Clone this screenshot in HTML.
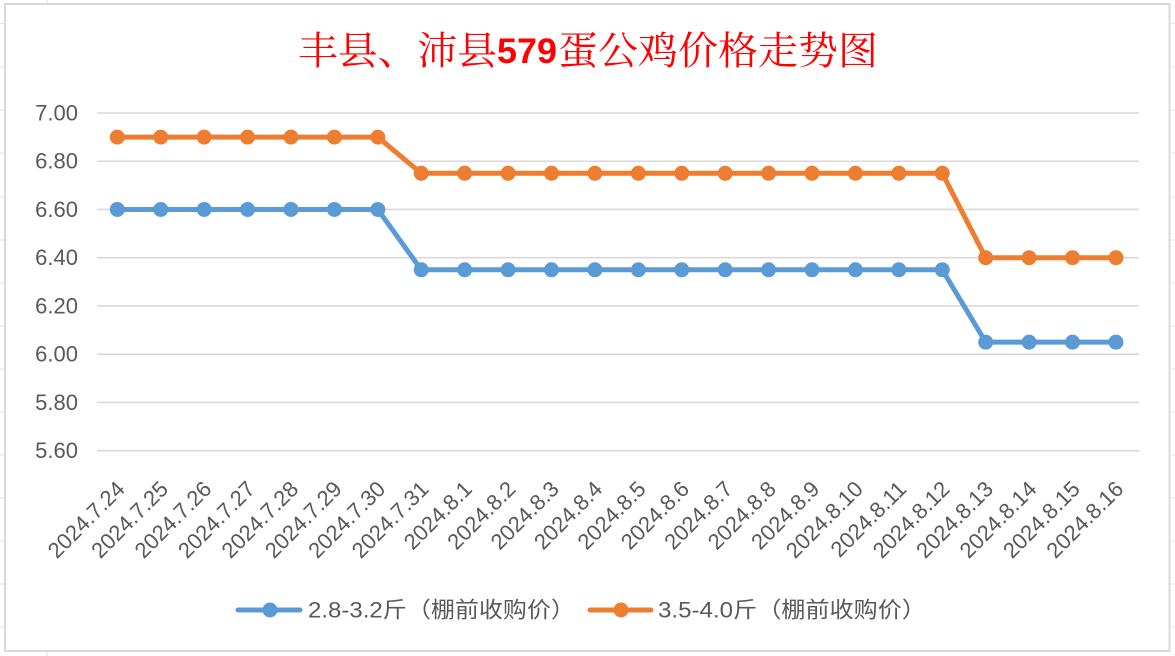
<!DOCTYPE html>
<html><head><meta charset="utf-8"><style>
html,body{margin:0;padding:0;background:#fff;}
svg{display:block;}
</style></head><body>
<svg width="1175" height="656" viewBox="0 0 1175 656" xmlns="http://www.w3.org/2000/svg">
<rect x="0" y="0" width="1175" height="656" fill="#fff"/>
<!-- faint excel cell grid outside chart -->
<g stroke="#E3E3E3" stroke-width="1">
<line x1="47" y1="0" x2="47" y2="4"/><line x1="47" y1="652" x2="47" y2="656"/>
<line x1="0" y1="23.5" x2="5" y2="23.5"/><line x1="0" y1="67" x2="5" y2="67"/><line x1="0" y1="110" x2="5" y2="110"/><line x1="0" y1="153" x2="5" y2="153"/><line x1="0" y1="197" x2="5" y2="197"/><line x1="0" y1="240" x2="5" y2="240"/><line x1="0" y1="283" x2="5" y2="283"/><line x1="0" y1="326" x2="5" y2="326"/><line x1="0" y1="369" x2="5" y2="369"/><line x1="0" y1="412" x2="5" y2="412"/><line x1="0" y1="455" x2="5" y2="455"/><line x1="0" y1="498" x2="5" y2="498"/><line x1="0" y1="541" x2="5" y2="541"/><line x1="0" y1="584" x2="5" y2="584"/><line x1="0" y1="627" x2="5" y2="627"/>
<line x1="1171" y1="23.5" x2="1175" y2="23.5"/><line x1="1171" y1="67" x2="1175" y2="67"/><line x1="1171" y1="110" x2="1175" y2="110"/><line x1="1171" y1="153" x2="1175" y2="153"/><line x1="1171" y1="197" x2="1175" y2="197"/><line x1="1171" y1="240" x2="1175" y2="240"/><line x1="1171" y1="283" x2="1175" y2="283"/><line x1="1171" y1="326" x2="1175" y2="326"/><line x1="1171" y1="369" x2="1175" y2="369"/><line x1="1171" y1="412" x2="1175" y2="412"/><line x1="1171" y1="455" x2="1175" y2="455"/><line x1="1171" y1="498" x2="1175" y2="498"/><line x1="1171" y1="541" x2="1175" y2="541"/><line x1="1171" y1="584" x2="1175" y2="584"/><line x1="1171" y1="627" x2="1175" y2="627"/>
</g>
<!-- chart border -->
<rect x="5" y="4" width="1164.5" height="647" fill="#fff" stroke="#D9D9D9" stroke-width="2"/>

<!-- title -->
<g fill="#FF0000">
<text x="298" y="48.5" dominant-baseline="central" font-family="'Noto Serif CJK SC','Liberation Serif',serif" font-size="39" textLength="199" lengthAdjust="spacingAndGlyphs">丰县、沛县</text>
<text x="497" y="63" font-family="'Liberation Sans',sans-serif" font-weight="bold" font-size="35" textLength="60" lengthAdjust="spacingAndGlyphs">579</text>
<text x="558" y="48.5" dominant-baseline="central" font-family="'Noto Serif CJK SC','Liberation Serif',serif" font-size="39" textLength="320" lengthAdjust="spacingAndGlyphs">蛋公鸡价格走势图</text>
</g>

<!-- gridlines -->
<g stroke="#D9D9D9" stroke-width="1.6">
<line x1="97" x2="1139" y1="113" y2="113"/>
<line x1="97" x2="1139" y1="161.24" y2="161.24"/>
<line x1="97" x2="1139" y1="209.48" y2="209.48"/>
<line x1="97" x2="1139" y1="257.72" y2="257.72"/>
<line x1="97" x2="1139" y1="305.96" y2="305.96"/>
<line x1="97" x2="1139" y1="354.2" y2="354.2"/>
<line x1="97" x2="1139" y1="402.44" y2="402.44"/>
<line x1="97" x2="1139" y1="450.68" y2="450.68"/>
</g>

<!-- y labels -->
<g fill="#595959" font-family="'Liberation Sans',sans-serif" font-size="22" text-anchor="end" dominant-baseline="central">
<text x="78" y="113">7.00</text>
<text x="78" y="161.24">6.80</text>
<text x="78" y="209.48">6.60</text>
<text x="78" y="257.72">6.40</text>
<text x="78" y="305.96">6.20</text>
<text x="78" y="354.2">6.00</text>
<text x="78" y="402.44">5.80</text>
<text x="78" y="450.68">5.60</text>
</g>

<!-- x labels -->
<g fill="#595959" font-family="'Liberation Sans',sans-serif" font-size="22" text-anchor="end" dominant-baseline="central" id="xl"></g>

<!-- series -->
<g id="series"></g>

<!-- legend -->
<line x1="238" y1="610" x2="300" y2="610" stroke="#5B9BD5" stroke-width="5" stroke-linecap="round"/>
<circle cx="270" cy="610" r="7.5" fill="#5B9BD5"/>
<text x="308" y="610" dominant-baseline="central" fill="#595959" font-family="'Liberation Sans','Noto Sans CJK SC',sans-serif" font-size="22" textLength="267" lengthAdjust="spacingAndGlyphs">2.8-3.2斤（棚前收购价）</text>
<line x1="590" y1="610" x2="651" y2="610" stroke="#ED7D31" stroke-width="5" stroke-linecap="round"/>
<circle cx="621" cy="610" r="7.5" fill="#ED7D31"/>
<text x="658" y="610" dominant-baseline="central" fill="#595959" font-family="'Liberation Sans','Noto Sans CJK SC',sans-serif" font-size="22" textLength="268" lengthAdjust="spacingAndGlyphs">3.5-4.0斤（棚前收购价）</text>

<script>
(function(){
var NS="http://www.w3.org/2000/svg";
var labels=["2024.7.24","2024.7.25","2024.7.26","2024.7.27","2024.7.28","2024.7.29","2024.7.30","2024.7.31","2024.8.1","2024.8.2","2024.8.3","2024.8.4","2024.8.5","2024.8.6","2024.8.7","2024.8.8","2024.8.9","2024.8.10","2024.8.11","2024.8.12","2024.8.13","2024.8.14","2024.8.15","2024.8.16"];
function X(i){return 117.3+i*43.42;}
function Y(v){return 113+(7-v)/0.2*48.24;}
var xl=document.getElementById("xl");
labels.forEach(function(s,i){
 var t=document.createElementNS(NS,"text");
 var x=X(i)+3.5,y=485;
 t.setAttribute("x",x);t.setAttribute("y",y);
 t.setAttribute("transform","rotate(-45 "+x+" "+y+")");
 t.textContent=s;xl.appendChild(t);
});
var blue=[],orange=[];
for(var i=0;i<24;i++){
 blue.push(i<7?6.60:(i<20?6.35:6.05));
 orange.push(i<7?6.90:(i<20?6.75:6.40));
}
var g=document.getElementById("series");
[[blue,"#5B9BD5"],[orange,"#ED7D31"]].forEach(function(s){
 var pts=s[0].map(function(v,i){return X(i).toFixed(2)+","+Y(v).toFixed(2);}).join(" ");
 var pl=document.createElementNS(NS,"polyline");
 pl.setAttribute("points",pts);pl.setAttribute("fill","none");
 pl.setAttribute("stroke",s[1]);pl.setAttribute("stroke-width","5");
 pl.setAttribute("stroke-linejoin","round");pl.setAttribute("stroke-linecap","round");
 g.appendChild(pl);
 s[0].forEach(function(v,i){
  var c=document.createElementNS(NS,"circle");
  c.setAttribute("cx",X(i));c.setAttribute("cy",Y(v));c.setAttribute("r","7.5");
  c.setAttribute("fill",s[1]);g.appendChild(c);
 });
});
})();
</script>
</svg>
</body></html>
